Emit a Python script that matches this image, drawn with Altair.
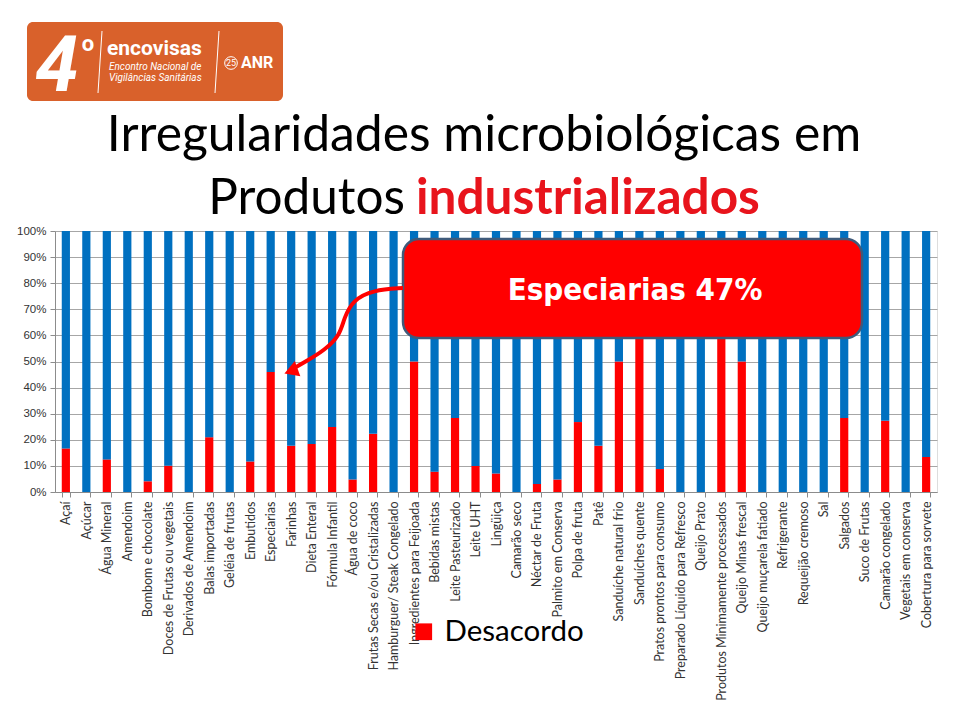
import altair as alt
import pandas as pd

categories = [
    "Açaí", "Açúcar", "Água Mineral", "Amendoim", "Bombom e chocolate",
    "Doces de Frutas ou vegetais", "Derivados de Amendoim", "Balas importadas",
    "Geléia de frutas", "Embutidos", "Especiarias", "Farinhas", "Dieta Enteral",
    "Fórmula Infantil", "Água de coco", "Frutas Secas e/ou Cristalizadas",
    "Hamburguer/ Steak Congelado", "Ingredientes para Feijoada", "Bebidas mistas",
    "Leite Pasteurizado", "Leite UHT", "Lingüiça", "Camarão seco", "Néctar de Fruta",
    "Palmito em Conserva", "Polpa de fruta", "Patê", "Sanduíche natural frio",
    "Sanduíches quente", "Pratos prontos para consumo",
    "Preparado Líquido para Refresco", "Queijo Prato",
    "Produtos Minimamente processados", "Queijo Minas frescal",
    "Queijo muçarela fatiado", "Refrigerante", "Requeijão cremoso", "Sal",
    "Salgados", "Suco de Frutas", "Camarão congelado", "Vegetais em conserva",
    "Cobertura para sorvete",
]
desacordo = [
    16.7, 0, 12.5, 0, 4.1, 10.1, 0, 21.0, 0, 11.7, 46.0, 17.7, 18.4, 24.9, 4.8,
    22.3, 0, 50.0, 7.8, 28.4, 10.0, 7.1, 0, 3.1, 4.8, 26.8, 17.7, 50.0, 66.7,
    8.8, 0, 0, 66.7, 50.0, 0, 0, 0, 0, 28.4, 0, 27.3, 0, 13.4,
]
series = ["Desacordo", "Acordo"]
series_colors = ["#FF0000", "#0070C0"]
y_ticks = [0, 10, 20, 30, 40, 50, 60, 70, 80, 90, 100]

W, H = 882, 261

rows = []
for c, d in zip(categories, desacordo):
    rows.append({"Produto": c, "Status": "Desacordo", "valor": d, "ord": 0})
    rows.append({"Produto": c, "Status": "Acordo", "valor": round(100 - d, 1), "ord": 1})
df = pd.DataFrame(rows)

bars = alt.Chart(df).mark_bar().encode(
    x=alt.X("Produto:N", sort=categories, title=None,
            scale=alt.Scale(paddingInner=0.6, paddingOuter=0.33),
            axis=alt.Axis(labelAngle=270, labelAlign="right", labelBaseline="middle",
                          labelFont="Lato", labelFontSize=12.5, labelColor="#333333",
                          labelPadding=4, tickSize=5, tickBand="extent",
                          domainColor="#8c8c8c", tickColor="#8c8c8c", labelOverlap=False,
                          labelLimit=300)),
    y=alt.Y("valor:Q", stack="zero", title=None,
            scale=alt.Scale(domain=[0, 100], nice=False),
            axis=alt.Axis(values=y_ticks, labelExpr="datum.value + '%'",
                          labelFont="Liberation Sans", labelFontSize=11.5,
                          labelColor="#333333", tickSize=5, labelPadding=4,
                          gridColor="#a6a6a6", domainColor="#8c8c8c",
                          tickColor="#8c8c8c", domain=True)),
    color=alt.Color("Status:N",
                    scale=alt.Scale(domain=series, range=series_colors),
                    legend=alt.Legend(values=["Desacordo"], title=None, orient="none",
                                      legendX=354, legendY=386, symbolType="square",
                                      symbolSize=280, symbolStrokeWidth=0,
                                      labelFont="Lato", labelFontSize=29.5,
                                      labelColor="#000000", labelOffset=6)),
    order=alt.Order("ord:Q"),
)


def one(**kw):
    return alt.Chart(pd.DataFrame([kw]))


# annotation box
box = one(a=1).mark_rect(color="#FF0000", cornerRadius=16, stroke="#3f5a7a",
                         strokeWidth=2.5).encode(
    x=alt.value(348), x2=alt.value(807), y=alt.value(8), y2=alt.value(107))
box_text = one(t="Especiarias 47%").mark_text(
    font="DejaVu Sans Condensed", fontWeight="bold", fontSize=31, color="white",
    align="center", baseline="middle").encode(
    text="t:N", x=alt.value(580), y=alt.value(60))

# arrow
arrow_pts = pd.DataFrame({
    "px": [348, 318, 298, 289, 285, 270, 250, 236],
    "py": [57, 59, 69, 87, 104, 119, 131, 139],
    "i": list(range(8)),
})
xs = alt.Scale(domain=[0, W], nice=False, zero=False)
ys = alt.Scale(domain=[0, H], reverse=True, nice=False, zero=False)
arrow = alt.Chart(arrow_pts).mark_line(color="#FF0000", strokeWidth=4,
                                       interpolate="basis").encode(
    x=alt.X("px:Q", scale=xs, axis=None),
    y=alt.Y("py:Q", scale=ys, axis=None),
    order="i:Q")
head = one(px=236, py=140).mark_point(shape="triangle-left", filled=True,
                                      color="#FF0000", size=260, angle=340,
                                      opacity=1).encode(
    x=alt.X("px:Q", scale=xs, axis=None),
    y=alt.Y("py:Q", scale=ys, axis=None))

# title
t1 = one(t="Irregularidades microbiológicas em").mark_text(
    font="Lato", fontSize=49.8, color="#000000", align="center",
    baseline="alphabetic").encode(text="t:N", x=alt.value(429), y=alt.value(-80))
t2a = one(t="Produtos").mark_text(
    font="Lato", fontSize=49.5, color="#000000", align="right",
    baseline="alphabetic").encode(text="t:N", x=alt.value(350), y=alt.value(-17))
t2b = one(t="industrializados").mark_text(
    font="Lato", fontSize=49.5, fontWeight="bold", color="#E8141C", align="left",
    baseline="alphabetic").encode(text="t:N", x=alt.value(361), y=alt.value(-17))

# logo
logo = one(a=1).mark_rect(color="#D9612B", cornerRadius=6).encode(
    x=alt.value(-28), x2=alt.value(228), y=alt.value(-209), y2=alt.value(-130))
l4 = one(t="4").mark_text(font="Roboto", fontWeight="bold", fontStyle="italic",
                          fontSize=78, color="white", align="center",
                          baseline="alphabetic").encode(
    text="t:N", x=alt.value(2), y=alt.value(-140))
lo = one(t="o").mark_text(font="Roboto", fontWeight="bold", fontSize=22,
                          color="white", align="center", baseline="alphabetic").encode(
    text="t:N", x=alt.value(33), y=alt.value(-180))
div1 = one(a=1).mark_rule(color="white", strokeWidth=1).encode(
    x=alt.value(47), x2=alt.value(43), y=alt.value(-200), y2=alt.value(-138))
div2 = one(a=1).mark_rule(color="white", strokeWidth=1).encode(
    x=alt.value(164), x2=alt.value(160), y=alt.value(-200), y2=alt.value(-138))
lenc = one(t="encovisas").mark_text(font="Roboto", fontWeight="bold", fontSize=21,
                                    color="white", align="left",
                                    baseline="alphabetic").encode(
    text="t:N", x=alt.value(52), y=alt.value(-176))
lsub1 = one(t="Encontro Nacional de").mark_text(font="Roboto", fontStyle="italic",
                                               fontSize=10, color="white",
                                               align="left", baseline="alphabetic").encode(
    text="t:N", x=alt.value(54), y=alt.value(-161))
lsub2 = one(t="Vigilâncias Sanitárias").mark_text(font="Roboto", fontStyle="italic",
                                                 fontSize=10, color="white",
                                                 align="left", baseline="alphabetic").encode(
    text="t:N", x=alt.value(54), y=alt.value(-150))
l25 = one(t="25").mark_text(font="Roboto", fontSize=9, color="white", align="center",
                            baseline="middle").encode(
    text="t:N", x=alt.value(176), y=alt.value(-168))
lcirc = one(px=176, py=-168).mark_point(shape="circle", color="white", size=160,
                                        strokeWidth=1, filled=False, opacity=1).encode(
    x=alt.value(176), y=alt.value(-168))
lanr = one(t="ANR").mark_text(font="Roboto", fontWeight="bold", fontSize=16,
                              color="white", align="left", baseline="middle").encode(
    text="t:N", x=alt.value(186), y=alt.value(-168))

chart = alt.layer(
    bars, box, box_text, arrow, head, t1, t2a, t2b,
    logo, l4, lo, div1, div2, lenc, lsub1, lsub2, lcirc, l25, lanr,
).resolve_scale(x="independent", y="independent", color="independent").properties(
    width=W, height=H,
    autosize="none",
    padding={"left": 47, "top": 223, "right": 7, "bottom": 214},
).configure_view(stroke=None).configure(background="white")

chart.save("out.html", embed_options={"renderer": "svg", "actions": False})
